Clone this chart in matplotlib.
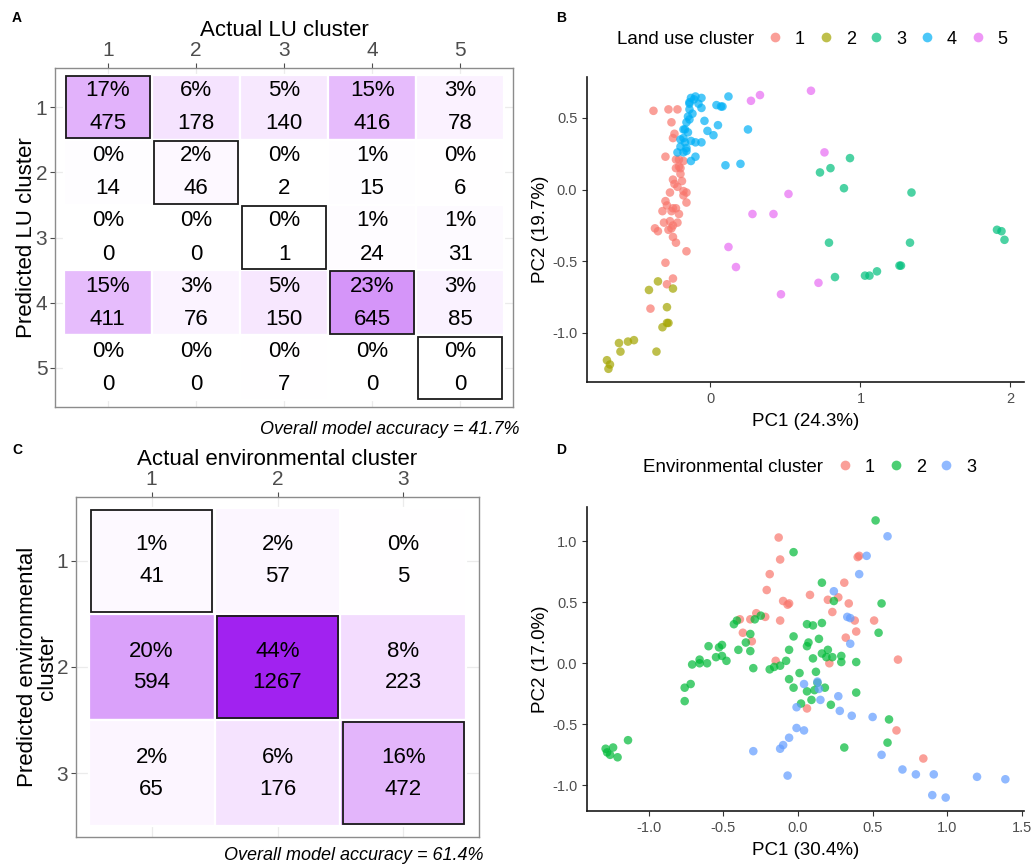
import numpy as np
import matplotlib
matplotlib.use("Agg")
import matplotlib.pyplot as plt
from matplotlib.patches import Rectangle
from matplotlib.lines import Line2D
from matplotlib.colors import ListedColormap, Normalize

plt.rcParams['font.family'] = ['Liberation Sans', 'DejaVu Sans']
plt.rcParams['axes.unicode_minus'] = False

# confusion matrices, rows = predicted cluster, cols = actual cluster
lu_counts = np.array([
    [475, 178, 140, 416, 78],
    [14, 46, 2, 15, 6],
    [0, 0, 1, 24, 31],
    [411, 76, 150, 645, 85],
    [0, 0, 7, 0, 0],
])
env_counts = np.array([
    [41, 57, 5],
    [594, 1267, 223],
    [65, 176, 472],
])

# PCA of land use clusters (PC1, PC2)
lu1 = [(-0.38, 0.55), (-0.28, 0.56), (-0.22, 0.56), (-0.26, 0.47), (-0.24, 0.39), (-0.25, 0.36),
       (-0.30, 0.23), (-0.23, 0.21), (-0.21, 0.21), (-0.18, 0.20), (-0.23, 0.15), (-0.20, 0.15),
       (-0.21, 0.16), (-0.20, 0.11), (-0.25, 0.07), (-0.19, 0.06), (-0.24, 0.04), (-0.22, 0.02),
       (-0.27, -0.02), (-0.18, -0.01), (-0.16, -0.02), (-0.18, -0.04), (-0.16, -0.09), (-0.30, -0.08),
       (-0.29, -0.11), (-0.32, -0.15), (-0.25, -0.13), (-0.23, -0.13), (-0.26, -0.15), (-0.21, -0.17),
       (-0.31, -0.23), (-0.27, -0.22), (-0.22, -0.23), (-0.25, -0.25), (-0.28, -0.28), (-0.26, -0.27),
       (-0.37, -0.27), (-0.35, -0.29), (-0.25, -0.33), (-0.23, -0.37), (-0.16, -0.43), (-0.30, -0.51),
       (-0.25, -0.62), (-0.29, -0.66), (-0.40, -0.83)]
lu2 = [(-0.35, -0.64), (-0.41, -0.70), (-0.25, -0.69), (-0.29, -0.82), (-0.28, -0.93), (-0.29, -0.93),
       (-0.32, -0.96), (-0.61, -1.07), (-0.55, -1.06), (-0.51, -1.05), (-0.60, -1.13), (-0.36, -1.13),
       (-0.69, -1.19), (-0.67, -1.22), (-0.68, -1.25)]
lu3 = [(0.93, 0.22), (0.73, 0.12), (0.80, 0.15), (0.89, 0.01), (1.34, -0.02), (0.79, -0.37),
       (1.33, -0.37), (0.83, -0.61), (1.03, -0.60), (1.06, -0.60), (1.11, -0.57), (1.26, -0.53),
       (1.27, -0.53), (1.91, -0.28), (1.94, -0.29), (1.96, -0.35)]
lu4 = [(-0.13, 0.64), (-0.10, 0.65), (-0.06, 0.64), (-0.14, 0.61), (-0.11, 0.63), (-0.08, 0.60),
       (-0.06, 0.57), (-0.14, 0.56), (-0.15, 0.51), (-0.16, 0.47), (-0.17, 0.42), (-0.15, 0.40),
       (-0.18, 0.36), (-0.20, 0.35), (-0.17, 0.33), (-0.13, 0.34), (-0.10, 0.33), (-0.06, 0.33),
       (-0.20, 0.30), (-0.16, 0.29), (-0.22, 0.26), (-0.18, 0.26), (-0.16, 0.27), (-0.10, 0.23),
       (-0.13, 0.20), (-0.04, 0.48), (-0.02, 0.41), (0.02, 0.38), (0.05, 0.45), (0.04, 0.59),
       (0.07, 0.58), (0.08, 0.58), (0.12, 0.65), (0.25, 0.42), (0.10, 0.17), (0.20, 0.18),
       (-0.14, 0.49), (-0.12, 0.53), (-0.18, 0.42), (-0.14, 0.60)]
lu5 = [(0.27, 0.62), (0.33, 0.66), (0.67, 0.69), (0.76, 0.26), (0.52, -0.03), (0.28, -0.17),
       (0.42, -0.17), (0.12, -0.40), (0.17, -0.54), (0.47, -0.73), (0.72, -0.65)]

# PCA of environmental clusters (PC1, PC2)
env1 = [(-0.13, 1.03), (-0.12, 0.85), (-0.19, 0.73), (-0.21, 0.60), (-0.10, 0.51), (-0.06, 0.49),
        (-0.07, 0.48), (0.08, 0.56), (0.20, 0.52), (0.27, 0.54), (0.31, 0.66), (0.34, 0.49),
        (0.23, 0.42), (0.40, 0.87), (0.41, 0.88), (0.38, 0.35), (0.39, 0.26), (0.32, 0.21),
        (0.51, 0.35), (0.67, 0.03), (-0.39, 0.36), (-0.32, 0.36), (-0.28, 0.41), (-0.22, 0.38),
        (-0.12, 0.35), (-0.37, 0.25), (-0.31, 0.18), (-0.15, 0.02), (0.21, 0.00), (0.06, -0.37),
        (0.66, -0.55), (0.84, -0.78)]
env2 = [(0.52, 1.17), (-0.03, 0.91), (0.16, 0.66), (0.24, 0.51), (0.56, 0.49), (0.54, 0.25),
        (0.06, 0.32), (0.10, 0.31), (0.16, 0.33), (-0.03, 0.22), (0.14, 0.20), (0.07, 0.17),
        (0.06, 0.14), (-0.06, 0.11), (-0.08, 0.02), (0.10, 0.04), (0.16, 0.08), (0.20, 0.11),
        (0.19, 0.05), (0.23, 0.05), (0.29, 0.06), (0.29, 0.01), (0.39, 0.01), (0.39, -0.24),
        (-0.43, 0.32), (-0.41, 0.35), (-0.29, 0.36), (-0.25, 0.39), (-0.32, 0.24), (-0.35, 0.17),
        (-0.32, 0.10), (-0.40, 0.11), (-0.60, 0.14), (-0.53, 0.13), (-0.51, 0.15), (-0.55, 0.05),
        (-0.51, 0.06), (-0.48, 0.02), (-0.66, 0.03), (-0.71, -0.01), (-0.66, 0.00), (-0.61, 0.00),
        (-0.30, -0.04), (-0.76, -0.20), (-0.72, -0.17), (-0.76, -0.31), (-0.19, -0.05), (-0.16, -0.03),
        (-0.12, -0.02), (-0.06, -0.13), (0.01, -0.08), (0.12, -0.07), (-0.03, -0.20), (0.13, -0.16),
        (0.18, -0.20), (0.06, -0.23), (0.11, -0.22), (0.02, -0.33), (0.09, -0.30), (0.22, -0.34),
        (0.61, -0.46), (0.60, -0.65), (0.31, -0.69), (-1.29, -0.70), (-1.28, -0.73), (-1.26, -0.75),
        (-1.24, -0.69), (-1.21, -0.77), (-1.14, -0.63)]
env3 = [(0.60, 1.04), (0.46, 0.88), (0.41, 0.73), (0.24, 0.59), (0.33, 0.38), (0.35, 0.37),
        (0.35, 0.16), (0.04, -0.17), (0.13, -0.15), (0.14, -0.21), (0.27, -0.27), (0.15, -0.30),
        (-0.01, -0.36), (0.28, -0.39), (0.36, -0.43), (0.50, -0.44), (-0.01, -0.53), (0.04, -0.55),
        (-0.06, -0.61), (-0.10, -0.67), (-0.12, -0.70), (-0.30, -0.72), (-0.07, -0.92), (0.56, -0.75),
        (0.70, -0.87), (0.79, -0.91), (0.91, -0.91), (1.20, -0.93), (1.39, -0.95), (0.90, -1.08),
        (0.99, -1.10)]

lu_colors = ['#F8766D', '#A3A500', '#00BF7D', '#00B0F6', '#E76BF3']
env_colors = ['#F8766D', '#00BA38', '#619CFF']

W, H = 1035, 864
fig = plt.figure(figsize=(W / 100, H / 100), dpi=100)


# white -> purple gradient interpolated in Lab, like ggplot's scale_fill_gradient
def _to_lab(rgb):
    c = np.asarray(rgb, float)
    lin = np.where(c <= 0.04045, c / 12.92, ((c + 0.055) / 1.055) ** 2.4)
    M = np.array([[0.4124, 0.3576, 0.1805], [0.2126, 0.7152, 0.0722], [0.0193, 0.1192, 0.9505]])
    xyz = M @ lin / np.array([0.95047, 1.0, 1.08883])
    f = np.where(xyz > 0.008856, np.cbrt(xyz), 7.787 * xyz + 16 / 116)
    return np.array([116 * f[1] - 16, 500 * (f[0] - f[1]), 200 * (f[1] - f[2])])


def _from_lab(lab):
    L, a, b = lab
    fy = (L + 16) / 116
    f = np.array([fy + a / 500, fy, fy - b / 200])
    xyz = np.where(f ** 3 > 0.008856, f ** 3, (f - 16 / 116) / 7.787) * np.array([0.95047, 1.0, 1.08883])
    Minv = np.array([[3.2406, -1.5372, -0.4986], [-0.9689, 1.8758, 0.0415], [0.0557, -0.2040, 1.0570]])
    lin = Minv @ xyz
    c = np.where(lin <= 0.0031308, 12.92 * lin, 1.055 * np.clip(lin, 0, None) ** (1 / 2.4) - 0.055)
    return np.clip(c, 0, 1)


lab_lo = _to_lab([1, 1, 1])
lab_hi = _to_lab([160 / 255, 32 / 255, 240 / 255])
cmap = ListedColormap([_from_lab(lab_lo + t * (lab_hi - lab_lo)) for t in np.linspace(0, 1, 256)])
norm = Normalize(0, 44)


def px_axes(l, t, r, b):
    return fig.add_axes([l / W, 1 - b / H, (r - l) / W, (b - t) / H])


def draw_cm(ax, counts, xlabel, ylabel, off, ylabpad):
    n = counts.shape[0]
    total = counts.sum()
    for i in range(n):
        for j in range(n):
            pct = counts[i, j] * 100 / total
            ax.add_patch(Rectangle((j + 0.5, i + 0.5), 1, 1, facecolor=cmap(norm(pct)),
                                   edgecolor='white', lw=1.6, zorder=2))
            if i == j:
                ax.add_patch(Rectangle((j + 0.52, i + 0.52), 0.96, 0.96, facecolor='none',
                                       edgecolor='#1a1a1a', lw=1.3, zorder=3))
            ax.text(j + 1, i + 1 - off, f"{round(pct)}%", ha='center', va='center',
                    fontsize=16, zorder=4)
            ax.text(j + 1, i + 1 + off, f"{counts[i, j]}", ha='center', va='center',
                    fontsize=16, zorder=4)
    ax.set_xlim(0.4, n + 0.6)
    ax.set_ylim(n + 0.6, 0.4)
    ticks = np.arange(1, n + 1)
    ax.set_xticks(ticks)
    ax.set_yticks(ticks)
    ax.set_xticklabels([str(t) for t in ticks])
    ax.set_yticklabels([str(t) for t in ticks])
    ax.xaxis.tick_top()
    ax.xaxis.set_label_position('top')
    ax.set_xlabel(xlabel, fontsize=16, labelpad=4)
    ax.set_ylabel(ylabel, fontsize=16, labelpad=ylabpad, linespacing=0.95)
    ax.tick_params(labelsize=15, colors='#4D4D4D', length=3.5, width=0.8, pad=2)
    ax.grid(True, color='#EBEBEB', lw=0.9, zorder=0)
    ax.set_axisbelow(True)
    for s in ax.spines.values():
        s.set_color('#8C8C8C')
        s.set_linewidth(1.0)


def ticks_fmt(vals):
    if all(float(v).is_integer() for v in vals):
        return [f"{int(v)}" for v in vals]
    return [f"{v:.1f}" for v in vals]


def draw_pca(ax, groups, colors, xlim, ylim, xticks, yticks, xlabel, ylabel):
    for pts, col in zip(groups, colors):
        arr = np.array(pts)
        ax.scatter(arr[:, 0], arr[:, 1], s=38, color=col, alpha=0.7, edgecolors='none')
    ax.set_xlim(*xlim)
    ax.set_ylim(*ylim)
    ax.set_xticks(xticks)
    ax.set_yticks(yticks)
    ax.set_xticklabels(ticks_fmt(xticks))
    ax.set_yticklabels([f"{v:.1f}" for v in yticks])
    ax.spines['top'].set_visible(False)
    ax.spines['right'].set_visible(False)
    for s in ('left', 'bottom'):
        ax.spines[s].set_linewidth(1.2)
        ax.spines[s].set_color('#1a1a1a')
    ax.tick_params(labelsize=10.5, labelcolor='#4D4D4D', color='#333333', length=3.5, width=0.8)
    ax.set_xlabel(xlabel, fontsize=13.5, labelpad=5)
    ax.set_ylabel(ylabel, fontsize=13.5, labelpad=2.5)


def draw_legend(ax, title, colors, title_x, title_y, first_dot_x):
    handles = [Line2D([], [], ls='none', marker='o', ms=7, color=c, alpha=0.7, markeredgewidth=0)
               for c in colors]
    labels = [str(k + 1) for k in range(len(colors))]
    fig.text(title_x / W, 1 - title_y / H, title, fontsize=13.5, ha='left', va='center')
    ax.legend(handles, labels, ncol=len(colors), loc='center left',
              bbox_to_anchor=((first_dot_x - 7) / W, 1 - title_y / H), bbox_transform=fig.transFigure,
              frameon=False, fontsize=13, handlelength=0.8, handletextpad=0.7,
              columnspacing=0.75, borderpad=0, borderaxespad=0)


# A: land use confusion matrix
axA = px_axes(55, 68, 513, 407)
draw_cm(axA, lu_counts, 'Actual LU cluster', 'Predicted LU cluster', 0.255, -1)
fig.text(520 / W, 1 - 430 / H, 'Overall model accuracy = %.1f%%' % (np.trace(lu_counts) * 100 / lu_counts.sum()),
         ha='right', va='center', fontsize=13, style='italic')

# B: land use PCA
axB = px_axes(587, 77, 1024, 382)
draw_pca(axB, [lu1, lu2, lu3, lu4, lu5], lu_colors, (-0.823, 2.09), (-1.342, 0.786),
         [0, 1, 2], [-1.0, -0.5, 0.0, 0.5], 'PC1 (24.3%)', 'PC2 (19.7%)')
draw_legend(axB, 'Land use cluster', lu_colors, 617, 39, 775)

# C: environmental confusion matrix
axC = px_axes(76, 497, 479, 837)
draw_cm(axC, env_counts, 'Actual environmental cluster', 'Predicted environmental\ncluster', 0.15, -1)
fig.text(484 / W, 1 - 856 / H, 'Overall model accuracy = %.1f%%' % (np.trace(env_counts) * 100 / env_counts.sum()),
         ha='right', va='center', fontsize=13, style='italic')

# D: environmental PCA
axD = px_axes(587, 507, 1024, 811)
draw_pca(axD, [env1, env2, env3], env_colors, (-1.415, 1.515), (-1.21, 1.28),
         [-1.0, -0.5, 0.0, 0.5, 1.0, 1.5], [-1.0, -0.5, 0.0, 0.5, 1.0], 'PC1 (30.4%)', 'PC2 (17.0%)')
draw_legend(axD, 'Environmental cluster', env_colors, 643, 467, 845)

for lab, x, y in [('A', 12, 18), ('B', 556, 18), ('C', 12, 450), ('D', 556, 450)]:
    fig.text(x / W, 1 - y / H, lab, fontsize=10, fontweight='bold', ha='left', va='center')

fig.savefig('out.png', dpi=100)
